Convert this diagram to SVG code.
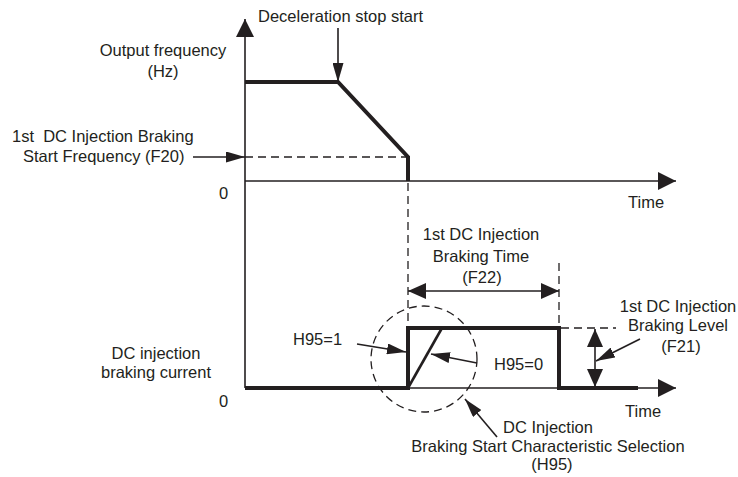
<svg xmlns="http://www.w3.org/2000/svg" width="738" height="477" viewBox="0 0 738 477">
<style>
text{font-family:"Liberation Sans",Arial,sans-serif;font-size:16.5px;fill:#231f20;white-space:pre}
.m{text-anchor:middle}
.ax{stroke:#231f20;stroke-width:1.6;fill:none}
.thick{stroke:#231f20;stroke-width:4;fill:none;stroke-linejoin:miter}
.dash{stroke:#231f20;stroke-width:1.3;fill:none;stroke-dasharray:8 5}
.ar{stroke:#231f20;stroke-width:1.6;fill:none}
</style>
<defs>
<marker id="big" viewBox="0 0 18 18" refX="18" refY="9" markerWidth="18" markerHeight="18" markerUnits="userSpaceOnUse" orient="auto"><path d="M0,0 L18,9 L0,18 z" fill="#231f20"/></marker>
<marker id="ah" viewBox="0 0 18 16" refX="18" refY="8" markerWidth="18" markerHeight="16" markerUnits="userSpaceOnUse" orient="auto-start-reverse"><path d="M0,0 L18,8 L0,16 z" fill="#231f20"/></marker>
<marker id="sl" viewBox="0 0 19 11" refX="19" refY="5.5" markerWidth="19" markerHeight="11" markerUnits="userSpaceOnUse" orient="auto"><path d="M0,0 L19,5.5 L0,11 z" fill="#231f20"/></marker>
</defs>
<g id="axes">
<line class="ax" x1="245" y1="388" x2="245" y2="19" marker-end="url(#big)"/>
<line class="ax" x1="245" y1="181" x2="676" y2="181" marker-end="url(#big)"/>
<line class="ax" x1="245" y1="388" x2="676" y2="388" marker-end="url(#big)"/>
</g>
<g id="waveforms">
<polyline class="thick" points="245,82 338,82 408,157 408,181"/>
<polyline class="thick" points="245,388 408,388 408,328 559,328 559,388 638,388"/>
<line x1="408" y1="388" x2="442" y2="328" stroke="#231f20" stroke-width="2.6"/>
</g>
<g id="guides">
<line class="dash" x1="245" y1="157" x2="408" y2="157"/>
<line class="dash" x1="408" y1="183" x2="408" y2="328"/>
<line class="dash" x1="559" y1="263" x2="559" y2="328"/>
<line class="dash" x1="561" y1="328" x2="616" y2="328"/>
<circle id="h95-circle" class="dash" cx="424" cy="359" r="53"/>
</g>
<g id="connectors">
<line class="ar" x1="193" y1="157" x2="245" y2="157" marker-end="url(#sl)"/>
<line class="ar" x1="338" y1="28" x2="338" y2="82" marker-end="url(#sl)"/>
<line class="ar" x1="408" y1="291" x2="559" y2="291" marker-start="url(#ah)" marker-end="url(#ah)"/>
<line class="ar" x1="357" y1="344" x2="406" y2="352" marker-end="url(#sl)"/>
<line class="ar" x1="477" y1="363" x2="431" y2="354" marker-end="url(#sl)"/>
<line class="ar" x1="595" y1="329" x2="595" y2="387" marker-start="url(#ah)" marker-end="url(#ah)"/>
<line class="ar" x1="640" y1="339" x2="596" y2="361" marker-end="url(#sl)"/>
<line class="ar" x1="497" y1="437" x2="465" y2="399" marker-end="url(#sl)"/>
</g>
<g id="label-decel"><text x="258" y="22">Deceleration stop start</text></g>
<g id="label-output"><text class="m" x="163" y="56">Output frequency</text><text class="m" x="163" y="77">(Hz)</text></g>
<g id="label-f20"><text x="12" y="142">1st  DC Injection Braking</text><text x="23" y="162">Start Frequency (F20)</text></g>
<g id="label-zero-top"><text x="219" y="199">0</text></g>
<g id="label-time-top"><text x="628" y="208">Time</text></g>
<g id="label-f22"><text class="m" x="481" y="240">1st DC Injection</text><text class="m" x="481" y="262">Braking Time</text><text class="m" x="482" y="283">(F22)</text></g>
<g id="label-f21"><text class="m" x="678" y="312">1st DC Injection</text><text class="m" x="678" y="331">Braking Level</text><text class="m" x="681" y="352">(F21)</text></g>
<g id="label-current"><text class="m" x="156" y="359">DC injection</text><text class="m" x="156" y="378">braking current</text></g>
<g id="label-zero-bottom"><text x="219" y="407">0</text></g>
<g id="label-h951"><text x="293" y="345">H95=1</text></g>
<g id="label-h950"><text x="494" y="370">H95=0</text></g>
<g id="label-time-bottom"><text x="625" y="417">Time</text></g>
<g id="label-h95"><text class="m" x="548" y="433">DC Injection</text><text class="m" x="548" y="452">Braking Start Characteristic Selection</text><text class="m" x="552" y="470">(H95)</text></g>
</svg>
